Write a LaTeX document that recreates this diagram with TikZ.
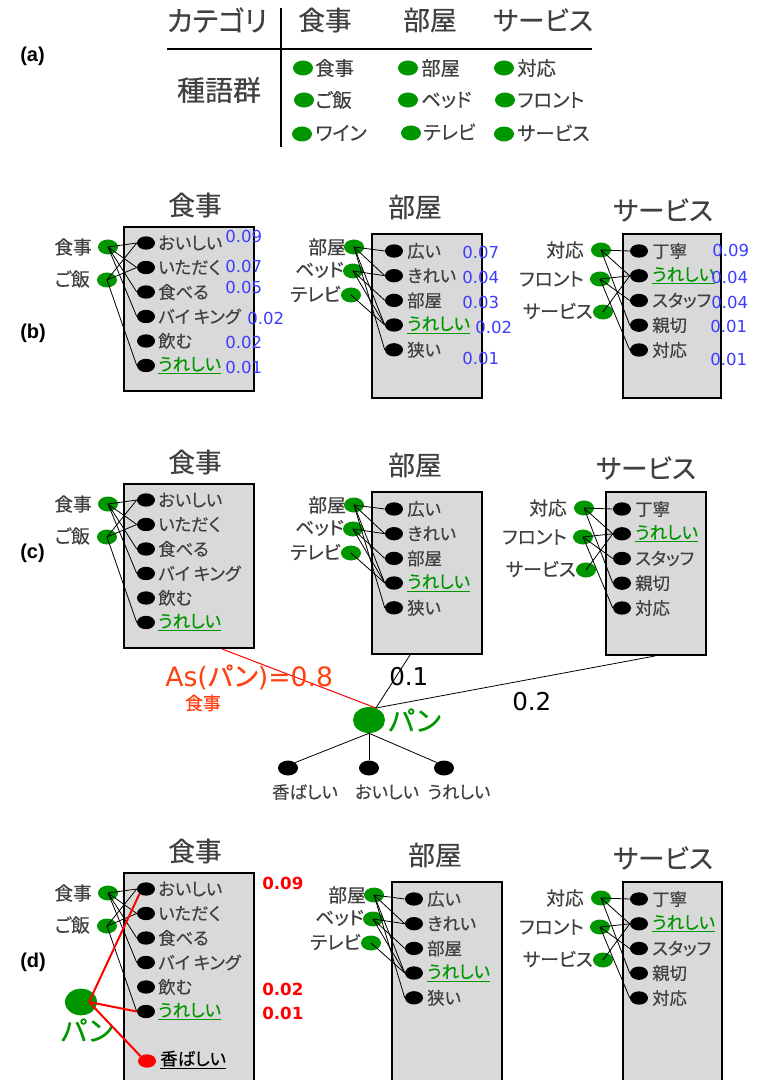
\documentclass[tikz,border=0pt]{standalone}
\usepackage{fontspec}
\setmainfont{Noto Sans CJK JP}[RawFeature={+palt}, FakeBold=0.4]
\newfontfamily\numfont{DejaVu Sans}
\newfontfamily\tagfont{Liberation Sans}
\usetikzlibrary{shapes.geometric}
\definecolor{txtgray}{RGB}{64,64,64}
\definecolor{dgreen}{RGB}{0,150,0}
\definecolor{boxgray}{RGB}{217,217,217}
\definecolor{numblue}{RGB}{60,60,255}
\definecolor{asred}{RGB}{255,64,16}
\tikzset{
 lab/.style={text=txtgray, inner sep=0pt, font=\fontsize{13pt}{15pt}\selectfont},
 slab/.style={text=txtgray, inner sep=0pt, anchor=east, font=\fontsize{14pt}{16pt}\selectfont},
 alab/.style={text=txtgray, inner sep=0pt, anchor=west, font=\fontsize{14.5pt}{16pt}\selectfont},
 ttl/.style={text=txtgray, inner sep=0pt, font=\fontsize{20pt}{24pt}\selectfont},
 bttl/.style={text=txtgray, inner sep=0pt, font=\fontsize{21pt}{24pt}\selectfont},
 num/.style={text=numblue, inner sep=0pt, anchor=west, font=\numfont\fontsize{12.4pt}{14pt}\selectfont},
 rnum/.style={text=red, inner sep=0pt, anchor=west, font=\numfont\bfseries\fontsize{12.5pt}{14pt}\selectfont},
 tag/.style={inner sep=0pt, anchor=west, font=\tagfont\bfseries\fontsize{15pt}{18pt}\selectfont},
 gdot/.style={ellipse, fill=dgreen, minimum width=15pt, minimum height=11.25pt, inner sep=0pt},
 bigdot/.style={ellipse, fill=dgreen, minimum width=24pt, minimum height=19.5pt, inner sep=0pt},
 bdot/.style={ellipse, fill=black, minimum width=13.5pt, minimum height=10pt, inner sep=0pt},
 catbox/.style={draw=black, fill=boxgray, line width=1.5pt, anchor=north west, inner sep=0pt},
 link/.style={black, line width=0.6pt},
 word/.style={lab, anchor=west},
 gword/.style={lab, anchor=west, text=dgreen},
}
% Food box: #1 prefix, #2 x, #3 y, #4 height
\newcommand\FoodBox[4]{%
\begin{scope}[shift={(#2,#3)}, name prefix=#1-]
 \node[catbox, minimum width=97.5pt, minimum height=#4*0.75pt] (box) at (0,0) {};
 \node[ttl] (title) at (72,-21) {食事};
 \node[gdot] (g1) at (-15,21) {};
 \node[gdot] (g2) at (-16,54) {};
 \node[slab] (g1t) at (-31,21) {食事};
 \node[slab] (g2t) at (-33,53) {ご飯};
 \node[bdot] (k1) at (23,17) {};
 \node[bdot] (k2) at (23,41.5) {};
 \node[bdot] (k3) at (23,66) {};
 \node[bdot] (k4) at (23,90.5) {};
 \node[bdot] (k5) at (23,115) {};
 \node[bdot] (k6) at (23,139.5) {};
 \node[word] (t1) at (35,17) {おいしい};
 \node[word] (t2) at (35,41.5) {いただく};
 \node[word] (t3) at (35,66) {食べる};
 \node[word] (t4) at (35,90.5) {バイ キング};
 \node[word] (t5) at (35,115) {飲む};
 \node[gword] (t6) at (35,139.5) {\underline{うれしい}};
 \draw[link] (g1.center) -- (k1.west);
 \draw[link] (g1.center) -- (k2.west);
 \draw[link] (g1.center) -- (k3.west);
 \draw[link] (g1.center) -- (k4.west);
 \draw[link] (g2.center) -- (k1.west);
 \draw[link] (g2.center) -- (k2.west);
 \draw[link] (g2.center) -- (k6.west);
\end{scope}}
% Room box
\newcommand\RoomBox[4]{%
\begin{scope}[shift={(#2,#3)}, name prefix=#1-]
 \node[catbox, minimum width=82.5pt, minimum height=#4*0.75pt] (box) at (0,0) {};
 \node[ttl] (title) at (44,-26) {部屋};
 \node[gdot] (g1) at (-17,14) {};
 \node[gdot] (g2) at (-18,38) {};
 \node[gdot] (g3) at (-20,62) {};
 \node[slab] (g1t) at (-25,14) {部屋};
 \node[slab] (g2t) at (-27,37) {ベッド};
 \node[slab] (g3t) at (-30,61) {テレビ};
 \node[bdot] (k1) at (23,18) {};
 \node[bdot] (k2) at (23,42.7) {};
 \node[bdot] (k3) at (23,67.4) {};
 \node[bdot] (k4) at (23,92) {};
 \node[bdot] (k5) at (23,116.8) {};
 \node[word] (t1) at (36,18) {広い};
 \node[word] (t2) at (36,42.7) {きれい};
 \node[word] (t3) at (36,67.4) {部屋};
 \node[gword] (t4) at (36,92) {\underline{うれしい}};
 \node[word] (t5) at (36,116.8) {狭い};
 \draw[link] (g1.center) -- (k1.west);
 \draw[link] (g1.center) -- (k2.west);
 \draw[link] (g1.center) -- (k4.west);
 \draw[link] (g1.center) -- (k5.west);
 \draw[link] (g2.center) -- (k2.west);
 \draw[link] (g2.center) -- (k3.west);
 \draw[link] (g2.center) -- (k4.west);
 \draw[link] (g3.center) -- (k4.west);
\end{scope}}
% Service box: #5 width
\newcommand\ServBox[5]{%
\begin{scope}[shift={(#2,#3)}, name prefix=#1-]
 \node[catbox, minimum width=#5*0.75pt, minimum height=#4*0.75pt] (box) at (0,0) {};
 \node[ttl] (title) at (41,-23) {サービス};
 \node[gdot] (g1) at (-21,17) {};
 \node[gdot] (g2) at (-22,46) {};
 \node[gdot] (g3) at (-19,79) {};
 \node[slab] (g1t) at (-38,17) {対応};
 \node[slab] (g2t) at (-38,46) {フロント};
 \node[slab] (g3t) at (-29,78) {サービス};
 \node[bdot] (k1) at (17,18) {};
 \node[bdot] (k2) at (17,42.8) {};
 \node[bdot] (k3) at (17,67.5) {};
 \node[bdot] (k4) at (17,92.2) {};
 \node[bdot] (k5) at (17,117) {};
 \node[word] (t1) at (30,18) {丁寧};
 \node[gword] (t2) at (30,42.8) {\underline{うれしい}};
 \node[word] (t3) at (30,67.5) {スタッフ};
 \node[word] (t4) at (30,92.2) {親切};
 \node[word] (t5) at (30,117) {対応};
 \draw[link] (g1.center) -- (k1.west);
 \draw[link] (g1.center) -- (k2.west);
 \draw[link] (g1.center) -- (k4.west);
 \draw[link] (g2.center) -- (k2.west);
 \draw[link] (g2.center) -- (k3.west);
 \draw[link] (g2.center) -- (k5.west);
 \draw[link] (g3.center) -- (k2.west);
\end{scope}}

\begin{document}
\begin{tikzpicture}[x=0.75pt, y=-0.75pt]
\useasboundingbox (0,0) rectangle (760,1080);
% ---------- (a) ----------
\node[tag] (la) at (20,56) {(a)};
\node[bttl] (hcat) at (217,20) {カテゴリ};
\node[ttl] (hfood) at (325,20) {食事};
\node[ttl] (hroom) at (430,20) {部屋};
\node[ttl] (hserv) at (543,20) {サービス};
\node[bttl] (hseed) at (219,90) {種語群};
\coordinate (vtop) at (281,8);
\coordinate (vbot) at (281,147);
\coordinate (hl) at (167,49);
\coordinate (hr) at (592,49);
\draw[line width=1.5pt] (vtop) -- (vbot);
\draw[line width=1.5pt] (hl) -- (hr);
\node[gdot] (a11) at (303,68) {};
\node[gdot] (a12) at (304,100) {};
\node[gdot] (a13) at (302,134) {};
\node[gdot] (a21) at (408,68) {};
\node[gdot] (a22) at (408,100) {};
\node[gdot] (a23) at (411,133) {};
\node[gdot] (a31) at (504,68) {};
\node[gdot] (a32) at (505,100) {};
\node[gdot] (a33) at (504,134) {};
\node[alab] (a11t) at (315,68) {食事};
\node[alab] (a12t) at (315,100) {ご飯};
\node[alab] (a13t) at (315,133) {ワイン};
\node[alab] (a21t) at (421,68) {部屋};
\node[alab] (a22t) at (421,100) {ベッド};
\node[alab] (a23t) at (423,132) {テレビ};
\node[alab] (a31t) at (517,68) {対応};
\node[alab] (a32t) at (517,100) {フロント};
\node[alab] (a33t) at (517,133) {サービス};
% ---------- (b) ----------
\node[tag] (lb) at (20,333) {(b)};
\FoodBox{b1}{123}{226}{164}
\RoomBox{b2}{371}{233}{164}
\ServBox{b3}{622}{233}{164}{98}
\node[num] (n11) at (225,236) {0.09};
\node[num] (n12) at (225,266) {0.07};
\node[num] (n13) at (225,287) {0.05};
\node[num] (n14) at (247,318) {0.02};
\node[num] (n15) at (225,342) {0.02};
\node[num] (n16) at (225,367) {0.01};
\node[num] (n21) at (462,252) {0.07};
\node[num] (n22) at (462,277) {0.04};
\node[num] (n23) at (462,302) {0.03};
\node[num] (n24) at (475,327) {0.02};
\node[num] (n25) at (462,358) {0.01};
\node[num] (n31) at (712,250) {0.09};
\node[num] (n32) at (711,277) {0.04};
\node[num] (n33) at (711,302) {0.04};
\node[num] (n34) at (710,326) {0.01};
\node[num] (n35) at (710,359) {0.01};
% ---------- (c) ----------
\node[tag] (lc) at (20,553) {(c)};
\FoodBox{c1}{123}{483}{164}
\RoomBox{c2}{371}{491}{162}
\ServBox{c3}{605}{491}{163}{100}
\node[bigdot] (pan) at (369,720) {};
\node[anchor=west, inner sep=0pt, text=dgreen, font=\fontsize{21pt}{24pt}\selectfont] (pant) at (388,720) {パン};
\coordinate (e1) at (222,0 |- c1-box.south);
\coordinate (e2) at (410,0 |- c2-box.south);
\coordinate (e3) at (655,0 |- c3-box.south);
\draw[red, line width=0.75pt] (e1) -- (pan.60);
\draw[link] (e2) -- (pan.60);
\draw[link] (e3) -- (pan.60);
\node[anchor=west, inner sep=0pt, text=asred, font=\fontsize{20pt}{24pt}\selectfont] (as) at (165,677) {{\numfont As(}パン{\numfont )=0.8}};
\node[inner sep=0pt, text=asred, font=\fontsize{13.5pt}{15pt}\selectfont] (assub) at (203,703) {食事};
\node[anchor=west, inner sep=0pt, font=\numfont\fontsize{18.4pt}{20pt}\selectfont] (w1) at (389,677) {0.1};
\node[anchor=west, inner sep=0pt, font=\numfont\fontsize{18.4pt}{20pt}\selectfont] (w2) at (512,702) {0.2};
\node[bdot, minimum width=15pt, minimum height=11.25pt] (p1) at (288,768) {};
\node[bdot, minimum width=15pt, minimum height=11.25pt] (p2) at (369,768) {};
\node[bdot, minimum width=15pt, minimum height=11.25pt] (p3) at (444,768) {};
\draw[link] (pan.south) -- (p1.north east);
\draw[link] (pan.south) -- (p2.north);
\draw[link] (pan.south) -- (p3.north west);
\node[lab] (p1t) at (305,792) {香ばしい};
\node[lab] (p2t) at (387,792) {おいしい};
\node[lab] (p3t) at (459,792) {うれしい};
% ---------- (d) ----------
\node[tag] (ld) at (20,962) {(d)};
\FoodBox{d1}{123}{872}{220}
\RoomBox{d2}{391}{881}{210}
\ServBox{d3}{622}{881}{210}{99}
\node[bdot, fill=red] (kx) at (147,1061) {};
\node[word, text=black] (kxt) at (160,1060) {\underline{香ばしい}};
\node[bigdot, minimum height=20pt] (dpan) at (81,1002) {};
\node[inner sep=0pt, text=dgreen, font=\fontsize{21pt}{24pt}\selectfont] (dpant) at (87,1030) {パン};
\draw[red, line width=1.5pt] ([xshift=6pt]dpan.center) -- (d1-k1.south west);
\draw[red, line width=1.5pt] ([xshift=6pt]dpan.center) -- (d1-k6.west);
\draw[red, line width=1.5pt] ([xshift=6pt]dpan.center) -- (kx.north west);
\node[rnum] (r1) at (262,883) {0.09};
\node[rnum] (r2) at (262,989) {0.02};
\node[rnum] (r3) at (262,1013) {0.01};
\end{tikzpicture}
\end{document}
